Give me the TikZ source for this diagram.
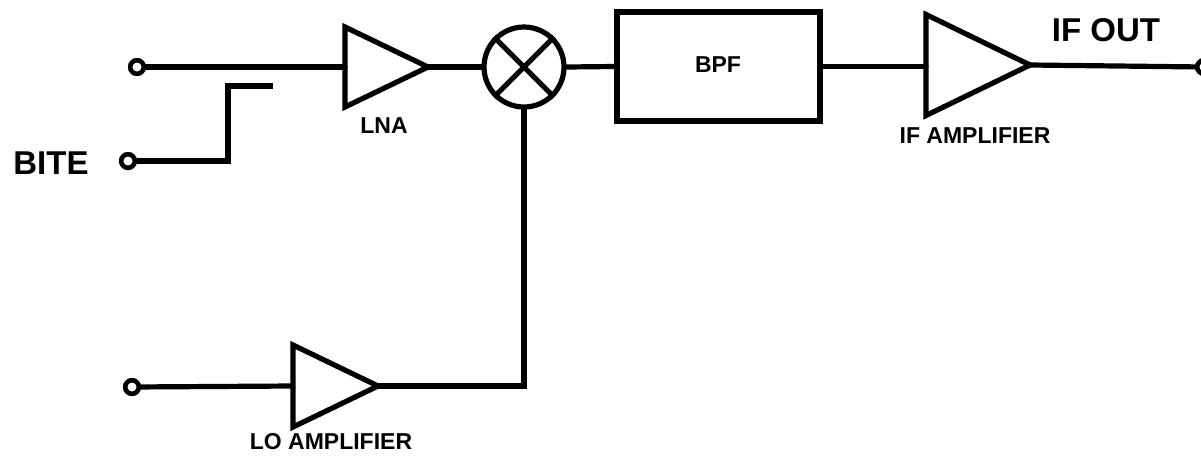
\documentclass[tikz,border=0pt]{standalone}
\usepackage{fontspec}
\setmainfont{Liberation Sans}
\usetikzlibrary{shapes.geometric}
\begin{document}
\begin{tikzpicture}[x=1pt,y=-1pt,
  wire/.style={line width=5.2pt,line cap=round,line join=miter},
  term/.style={circle,draw,line width=4.5pt,fill=white,minimum size=13.5pt,inner sep=0pt},
  amp/.style={isosceles triangle,isosceles triangle stretches,shape border rotate=0,draw,line width=5.2pt,line join=miter,inner sep=0pt,outer sep=0pt,anchor=lower side},
  lbl/.style={font=\bfseries\fontsize{23}{23}\selectfont,inner sep=0pt},
  biglbl/.style={font=\bfseries\fontsize{33}{33}\selectfont,inner sep=0pt}]
\useasboundingbox (0,0) rectangle (1201,456);
% nodes
\node[amp,minimum width=80pt,minimum height=83pt] (lna) at (345,67) {};
\node[circle,draw,line width=5.2pt,minimum size=80pt,inner sep=0pt] (mix) at (524,67) {};
\node[rectangle,draw,line width=5.2pt,minimum width=203pt,minimum height=109pt,inner sep=0pt] (bpf) at (718.5,66.5) {};
\node[amp,minimum width=101pt,minimum height=104pt] (ifa) at (926,65) {};
\node[amp,minimum width=82pt,minimum height=85pt] (lo) at (293,386) {};
\node[term] (tin) at (137,67) {};
\node[term] (tbite) at (128,161) {};
\node[term] (tlo) at (132,387) {};
\node[term] (tout) at (1204,67) {};
\coordinate (bitetop) at (228,86);
\coordinate (biteend) at (273,86);
\coordinate (bitecorner) at (228,161);
% mixer cross
\draw[wire,line cap=butt] (mix.45) -- (mix.225) (mix.135) -- (mix.315);
% connectors
\draw[wire] (tin) -- (lna.lower side);
\draw[wire] (lna.apex) -- (mix.west);
\draw[wire] (mix.east) -- (bpf.west);
\draw[wire] (bpf.east) -- (bpf.east -| ifa.lower side);
\draw[wire] (ifa.apex) -- (tout);
\draw[wire,line cap=butt] (tlo) -- (lo.lower side);
\draw[wire,line join=miter] (lo.apex) -- (mix.south |- lo.apex) -- (mix.south);
\draw[wire,line cap=butt,line join=miter] (tbite) -- (bitecorner) -- (bitetop) -- (biteend);
% redraw terminals on top
\node[term] at (tin) {};
\node[term] at (tbite) {};
\node[term] at (tlo) {};
\node[term] at (tout) {};
% labels
\node[lbl] (llna) at (384,126) {LNA};
\node[lbl] (lbpf) at (718,65) {BPF};
\node[lbl] (lifa) at (975,136) {IF AMPLIFIER};
\node[lbl] (llo) at (331,442) {LO AMPLIFIER};
\node[biglbl] (lbite) at (51,163) {BITE};
\node[biglbl] (lout) at (1106,30) {IF OUT};
\end{tikzpicture}
\end{document}
